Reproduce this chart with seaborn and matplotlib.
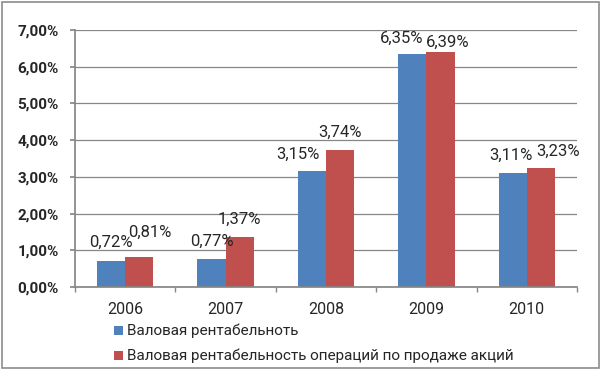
import matplotlib
matplotlib.use("Agg")
import matplotlib.pyplot as plt
import seaborn as sns
import pandas as pd
from matplotlib.patches import Rectangle
from matplotlib.ticker import FuncFormatter, FixedLocator

years = ["2006", "2007", "2008", "2009", "2010"]
series_names = ["Валовая рентабельноть", "Валовая рентабельность операций по продаже акций"]
gross = [0.72, 0.77, 3.15, 6.35, 3.11]
shares = [0.81, 1.37, 3.74, 6.39, 3.23]
colors = ["#4F81BD", "#C0504D"]
# label nudges in pixels (dx, dy; negative dy = up), per series
label_nudges = [
    [(0, -1.5), (0, 0), (-14, 0), (-11, 1.5), (-2, 0)],
    [(11, -7.5), (0, 0), (0, 0), (7, 6.5), (17, 0)],
]

sns.set_theme(style="white")
plt.rcParams["font.family"] = ["Roboto", "DejaVu Sans"]

df = pd.DataFrame({
    "year": years * 2,
    "value": gross + shares,
    "series": [series_names[0]] * len(years) + [series_names[1]] * len(years),
})

W, H = 602, 370
fig = plt.figure(figsize=(W / 100, H / 100), dpi=100)
ax = fig.add_axes([75 / W, 1 - 287 / H, (577 - 75) / W, (287 - 30) / H])

sns.barplot(data=df, x="year", y="value", hue="series", palette=colors,
            width=0.56, gap=0, ax=ax, saturation=1, edgecolor="none")

ax.set_ylim(0, 7)
ax.set_xlim(-0.5, 4.5)
ax.yaxis.set_major_locator(FixedLocator([0, 1, 2, 3, 4, 5, 6, 7]))
ax.yaxis.set_major_formatter(FuncFormatter(lambda v, p: f"{v:.2f}".replace(".", ",") + "%"))
ax.grid(axis="y", color="#868686", linewidth=0.9)
ax.set_axisbelow(True)
for s in ["top", "right"]:
    ax.spines[s].set_visible(False)
ax.spines["left"].set_color("#868686")
ax.spines["bottom"].set_color("#868686")
ax.tick_params(axis="y", length=3.6, color="#868686", labelsize=11, pad=8, left=True)
for t in ax.get_yticklabels():
    t.set_fontweight("bold")
ax.tick_params(axis="x", length=0, labelsize=11.5, pad=11)
ax.set_xticks(range(5))
ax.set_xticks([-0.5, 0.5, 1.5, 2.5, 3.5, 4.5], minor=True)
ax.tick_params(axis="x", which="minor", length=3.6, color="#868686", bottom=True)
ax.set_xlabel("")
ax.set_ylabel("")

for cont, nudges in zip(ax.containers, label_nudges):
    for bar, v, (dx, dy) in zip(cont, cont.datavalues, nudges):
        ax.annotate(f"{v:.2f}".replace(".", ",") + "%",
                    xy=(bar.get_x() + bar.get_width() / 2, bar.get_height()),
                    xytext=(dx * 0.72, (17 - dy) * 0.72), textcoords="offset points",
                    ha="center", va="center", fontsize=12)

ax.legend_.remove()
for i, (name, col) in enumerate(zip(series_names, colors)):
    y = 330.5 + i * 25
    fig.patches.append(Rectangle((114 / W, 1 - (y + 4.5) / H), 9 / W, 9 / H,
                                 transform=fig.transFigure, facecolor=col, edgecolor="none"))
    fig.text(127 / W, 1 - y / H, name, fontsize=11, va="center", ha="left")

# chart border
fig.patches.append(Rectangle((2 / W, 2 / H), 597 / W, 366 / H, transform=fig.transFigure,
                             facecolor="none", edgecolor="#8C8C8C", linewidth=1.2))

fig.savefig("out.png", dpi=100)
